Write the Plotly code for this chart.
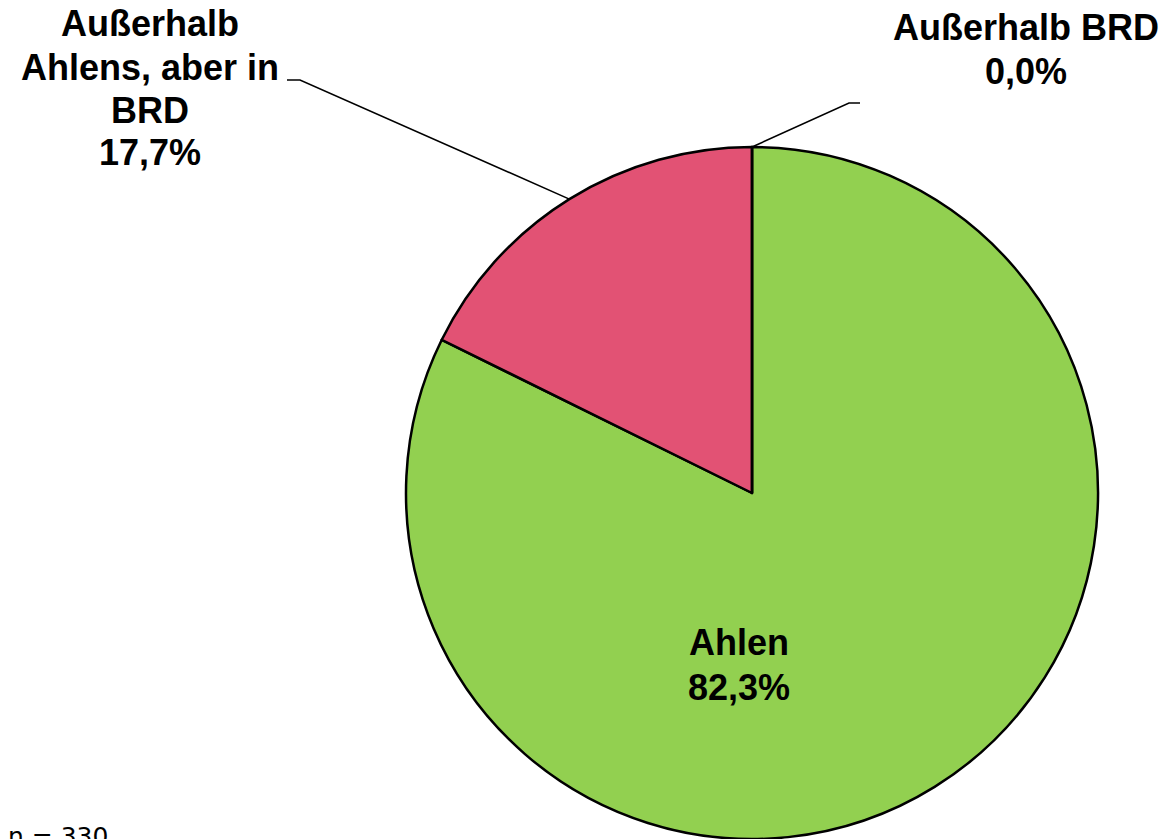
import math
import plotly.graph_objects as go

# ---- data ----
labels = ["Ahlen", "Außerhalb Ahlens, aber in BRD", "Außerhalb BRD"]
label_lines = [["Ahlen"], ["Außerhalb", "Ahlens, aber in", "BRD"], ["Außerhalb BRD"]]
values = [82.3, 17.7, 0.0]
colors = ["#92D050", "#E25274", "#4F81BD"]
n_text = "n = 330"

W, H = 1175, 839
# pie geometry (pixels)
cx, cy, r = 752, 493, 346

def px(x):
    return x / W

def py(y):
    return 1 - y / H

fig = go.Figure(go.Pie(
    labels=labels,
    values=values,
    sort=False,
    direction="clockwise",
    rotation=0,
    marker=dict(colors=colors, line=dict(color="black", width=2.5)),
    textinfo="none",
    hoverinfo="label+percent",
    showlegend=False,
    domain=dict(x=[px(cx - r), px(cx + r)], y=[0, py(cy - r)]),
))

total = sum(values)
cum = 0
mids = []
for v in values:
    mids.append((cum + v / 2) / total * 2 * math.pi)
    cum += v

def fmt(v):
    return f"{v:.1f}".replace(".", ",") + "%"

# label positions: centre x, first line y, line spacing (pixels)
label_pos = [(739, 642, 45), (150, 24, 43), (1026, 28, 43)]
elbows = [None, [(300, 80), (287, 80)], [(849, 103), (860, 103)]]

font = dict(family="Arial, Liberation Sans, sans-serif", size=36, color="black")
annotations = []
shapes = []
for i, (lines, v) in enumerate(zip(label_lines, values)):
    x, y0, dy = label_pos[i]
    for k, t in enumerate(lines + [fmt(v)]):
        annotations.append(dict(
            x=px(x), y=py(y0 + k * dy), xref="paper", yref="paper",
            text=f"<b>{t}</b>", showarrow=False,
            xanchor="center", yanchor="middle", align="center", font=font,
        ))
    if elbows[i]:
        a = mids[i]
        ex = cx + r * math.sin(a)
        ey = cy - r * math.cos(a)
        pts = [(ex, ey)] + elbows[i]
        path = "M " + " L ".join(f"{px(p[0])},{py(p[1])}" for p in pts)
        shapes.append(dict(type="path", path=path, xref="paper", yref="paper",
                           line=dict(color="black", width=1.6)))

annotations.append(dict(
    x=px(6), y=py(845), xref="paper", yref="paper", text=n_text, showarrow=False,
    xanchor="left", yanchor="bottom", yshift=-8,
    font=dict(family="DejaVu Sans", size=25, color="black"),
))

fig.update_layout(
    width=W, height=H,
    margin=dict(l=0, r=0, t=0, b=0),
    paper_bgcolor="white", plot_bgcolor="white",
    annotations=annotations, shapes=shapes,
)

fig.write_html("out.html", config={"displayModeBar": False},
               post_script="document.body.style.margin='0';")
